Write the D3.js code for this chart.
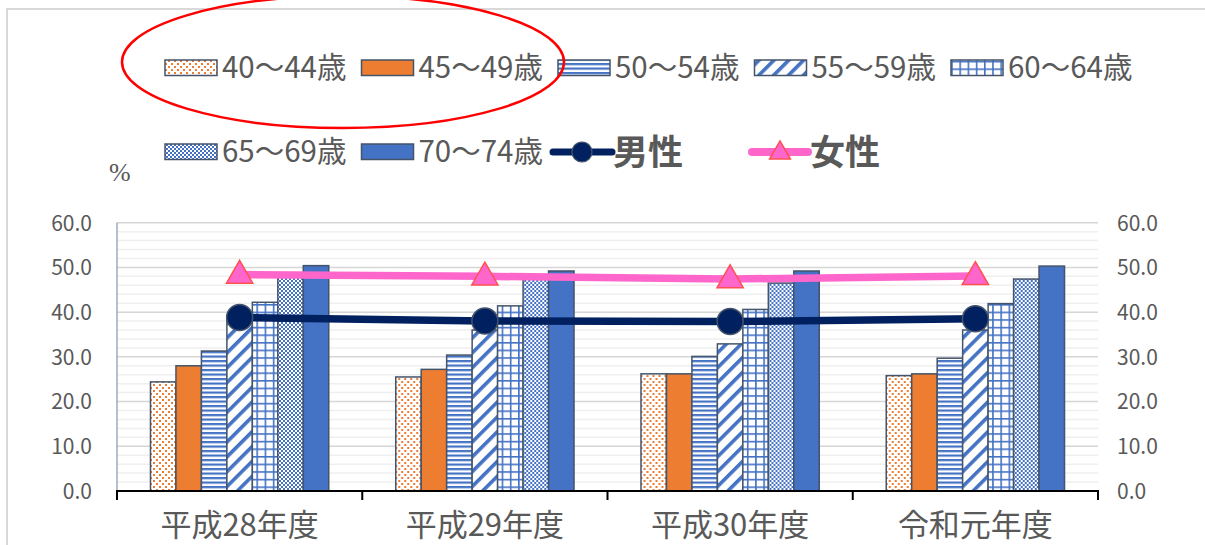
<!DOCTYPE html>
<html lang="ja">
<head>
<meta charset="utf-8">
<script src="https://cdn.jsdelivr.net/npm/d3@7"></script>
<style>
  html, body { margin: 0; padding: 0; background: #fff; }
  svg { display: block; }
  text { font-family: "Noto Sans CJK JP", "Noto Sans", sans-serif; fill: #595959; }
</style>
</head>
<body>
<svg id="chart" width="1205" height="545"></svg>
<script>
// Survey years (x categories)
const categories = ["平成28年度", "平成29年度", "平成30年度", "令和元年度"];

// Age-group series (%), one value per year
const ageGroups = ["40～44歳", "45～49歳", "50～54歳", "55～59歳", "60～64歳", "65～69歳", "70～74歳"];
const age40_44 = [24.4, 25.5, 26.2, 25.8];
const age45_49 = [28.0, 27.2, 26.2, 26.2];
const age50_54 = [31.3, 30.4, 30.1, 29.7];
const age55_59 = [38.5, 36.0, 32.9, 36.0];
const age60_64 = [42.2, 41.4, 40.6, 41.9];
const age65_69 = [48.5, 48.0, 46.5, 47.4];
const age70_74 = [50.4, 49.2, 49.2, 50.3];

// Sex series (%)
const male   = [38.8, 38.0, 37.9, 38.5];
const female = [48.4, 48.0, 47.4, 48.1];

// Axis ticks
const yTicks = [0, 10, 20, 30, 40, 50, 60];

const ageSeries = [age40_44, age45_49, age50_54, age55_59, age60_64, age65_69, age70_74];

const svg = d3.select("#chart");
const defs = svg.append("defs");

const ORANGE = "#ED7D31", BLUE = "#4472C4", EDGE = "#44546A";

// ---- fill patterns for the bars ----
function pattern(id, w, h, build, transform) {
  const p = defs.append("pattern").attr("id", id)
    .attr("patternUnits", "userSpaceOnUse").attr("width", w).attr("height", h);
  if (transform) p.attr("patternTransform", transform);
  build(p);
}
pattern("pDots", 6, 6, p => {
  p.append("rect").attr("width", 6).attr("height", 6).attr("fill", "#fff");
  p.append("rect").attr("x", 0).attr("y", 0).attr("width", 2).attr("height", 2).attr("fill", ORANGE);
  p.append("rect").attr("x", 3).attr("y", 3).attr("width", 2).attr("height", 2).attr("fill", ORANGE);
});
pattern("pHoriz", 6, 4.5, p => {
  p.append("rect").attr("width", 6).attr("height", 4.5).attr("fill", "#fff");
  p.append("rect").attr("y", 0).attr("width", 6).attr("height", 2.2).attr("fill", BLUE);
});
pattern("pDiag", 10.5, 10.5, p => {
  p.append("rect").attr("width", 10.5).attr("height", 10.5).attr("fill", "#fff");
  p.append("rect").attr("width", 3.6).attr("height", 10.5).attr("fill", BLUE);
}, "rotate(45)");
pattern("pGrid", 8.2, 7.6, p => {
  p.append("rect").attr("width", 8.2).attr("height", 7.6).attr("fill", "#fff");
  p.append("rect").attr("width", 1.6).attr("height", 7.6).attr("fill", BLUE);
  p.append("rect").attr("width", 8.2).attr("height", 1.6).attr("fill", BLUE);
});
pattern("pCheck", 4, 4, p => {
  p.append("rect").attr("width", 4).attr("height", 4).attr("fill", BLUE);
  p.append("rect").attr("width", 2).attr("height", 2).attr("fill", "#fff");
  p.append("rect").attr("x", 2).attr("y", 2).attr("width", 2).attr("height", 2).attr("fill", "#fff");
});

const fills = ["url(#pDots)", ORANGE, "url(#pHoriz)", "url(#pDiag)", "url(#pGrid)", "url(#pCheck)", BLUE];

// ---- outer chart frame ----
svg.append("rect").attr("x", 7).attr("y", 9).attr("width", 1300).attr("height", 600)
  .attr("fill", "none").attr("stroke", "#d9d9d9").attr("stroke-width", 2);

// ---- scales ----
const plot = { left: 117, right: 1098, top: 222.7, bottom: 491 };
const x0 = d3.scaleBand().domain(categories).range([plot.left, plot.right]).padding(0);
const gapRatio = 2.63;
const barW = x0.bandwidth() / (ageGroups.length + gapRatio);
const x1 = d3.scaleBand().domain(d3.range(ageGroups.length))
  .range([barW * gapRatio / 2, x0.bandwidth() - barW * gapRatio / 2]).padding(0);
const y = d3.scaleLinear().domain([0, 60]).range([plot.bottom, plot.top]);

// ---- gridlines (minor every 2, major every 10) ----
const grid = svg.append("g");
grid.selectAll("line.minor").data(d3.range(2, 60, 2).filter(v => v % 10 !== 0)).join("line")
  .attr("x1", plot.left).attr("x2", plot.right)
  .attr("y1", d => y(d)).attr("y2", d => y(d))
  .attr("stroke", "#efefef").attr("stroke-width", 1.5);
grid.selectAll("line.major").data(yTicks.filter(v => v > 0)).join("line")
  .attr("x1", plot.left).attr("x2", plot.right)
  .attr("y1", d => y(d)).attr("y2", d => y(d))
  .attr("stroke", "#d6d6d6").attr("stroke-width", 1.5);

// left value axis line
svg.append("line").attr("x1", plot.left).attr("x2", plot.left)
  .attr("y1", plot.top).attr("y2", plot.bottom)
  .attr("stroke", "#8497B0").attr("stroke-width", 1.2);

// ---- y tick labels (both sides) ----
const yAxisL = d3.axisLeft(y).tickValues(yTicks).tickFormat(d3.format(".1f")).tickSize(0).tickPadding(25);
const yAxisR = d3.axisRight(y).tickValues(yTicks).tickFormat(d3.format(".1f")).tickSize(0).tickPadding(19);
[svg.append("g").attr("transform", `translate(${plot.left},0)`).call(yAxisL),
 svg.append("g").attr("transform", `translate(${plot.right},0)`).call(yAxisR)].forEach(g => {
  g.select(".domain").remove();
  g.selectAll("text").attr("font-size", 21).attr("fill", "#595959")
    .style("font-family", "'Noto Sans CJK JP', sans-serif").attr("dy", "0.35em");
});

// ---- bars ----
const groups = svg.append("g").selectAll("g").data(categories).join("g")
  .attr("transform", d => `translate(${x0(d)},0)`);
groups.selectAll("rect").data((c, ci) => ageSeries.map((s, si) => ({ si, v: s[ci] }))).join("rect")
  .attr("x", d => x1(d.si)).attr("width", x1.bandwidth())
  .attr("y", d => y(d.v)).attr("height", d => y(0) - y(d.v))
  .attr("fill", d => fills[d.si]).attr("stroke", EDGE).attr("stroke-width", 1.5);

// ---- category axis ----
const xAxis = svg.append("g").attr("transform", `translate(0,${plot.bottom})`);
xAxis.append("line").attr("x1", plot.left - 1).attr("x2", plot.right + 1)
  .attr("stroke", "#000").attr("stroke-width", 2);
xAxis.selectAll("line.tick").data(d3.range(categories.length + 1)).join("line")
  .attr("x1", i => plot.left + i * x0.bandwidth()).attr("x2", i => plot.left + i * x0.bandwidth())
  .attr("y1", 0).attr("y2", 9).attr("stroke", "#000").attr("stroke-width", 2);
xAxis.selectAll("text").data(categories).join("text")
  .attr("x", d => x0(d) + x0.bandwidth() / 2).attr("y", 45)
  .attr("text-anchor", "middle").attr("font-size", 31).text(d => d);

// ---- lines with markers (placed at the category centre) ----
const cx = c => x0(c) + x0.bandwidth() / 2;
const lineGen = vals => d3.line().x((d, i) => cx(categories[i])).y(d => y(d))(vals);
const MALE_C = "#002060", FEMALE_C = "#FF66CC";

svg.append("path").attr("d", lineGen(female)).attr("fill", "none")
  .attr("stroke", FEMALE_C).attr("stroke-width", 7.5);
svg.append("path").attr("d", lineGen(male)).attr("fill", "none")
  .attr("stroke", MALE_C).attr("stroke-width", 7.5);

const tri = d3.symbol().type(d3.symbolTriangle).size(300);
svg.append("g").selectAll("path").data(female).join("path")
  .attr("d", tri).attr("transform", (d, i) => `translate(${cx(categories[i])},${y(d) + 1})`)
  .attr("fill", FEMALE_C).attr("stroke", "#FF5050").attr("stroke-width", 1.5);
svg.append("g").selectAll("circle").data(male).join("circle")
  .attr("cx", (d, i) => cx(categories[i])).attr("cy", d => y(d)).attr("r", 13)
  .attr("fill", MALE_C).attr("stroke", EDGE).attr("stroke-width", 1.5);

// ---- legend ----
const legend = svg.append("g");
const legendItems = ageGroups.map((name, i) => ({ name, fill: fills[i],
  x: 165 + (i % 5) * 196.5, y: i < 5 ? 68 : 152 }));
legendItems.forEach(it => {
  legend.append("rect").attr("x", it.x).attr("y", it.y - 8).attr("width", 52).attr("height", 15.5)
    .attr("fill", it.fill).attr("stroke", EDGE).attr("stroke-width", 1.5);
  legend.append("text").attr("x", it.x + 57).attr("y", it.y).attr("dy", "0.35em")
    .attr("font-size", 29.5).text(it.name);
});
// male legend entry
legend.append("line").attr("x1", 553).attr("x2", 612).attr("y1", 152).attr("y2", 152)
  .attr("stroke", MALE_C).attr("stroke-width", 7).attr("stroke-linecap", "round");
legend.append("circle").attr("cx", 582).attr("cy", 152).attr("r", 10)
  .attr("fill", MALE_C).attr("stroke", EDGE).attr("stroke-width", 1.2);
legend.append("text").attr("x", 613).attr("y", 152).attr("dy", "0.36em")
  .attr("font-size", 35).attr("font-weight", "bold").text("男性");
// female legend entry
legend.append("line").attr("x1", 752).attr("x2", 808).attr("y1", 152).attr("y2", 152)
  .attr("stroke", FEMALE_C).attr("stroke-width", 8).attr("stroke-linecap", "round");
legend.append("path").attr("d", d3.symbol().type(d3.symbolTriangle).size(190))
  .attr("transform", "translate(780,153)")
  .attr("fill", FEMALE_C).attr("stroke", "#FF5050").attr("stroke-width", 1.5);
legend.append("text").attr("x", 810).attr("y", 152).attr("dy", "0.36em")
  .attr("font-size", 35).attr("font-weight", "bold").text("女性");

// unit label
svg.append("text").attr("x", 109).attr("y", 181).attr("font-size", 26)
  .style("font-family", "'Liberation Serif', serif").attr("fill", "#222").text("%");

// highlight ellipse around the first legend entries
svg.append("ellipse").attr("cx", 343).attr("cy", 62).attr("rx", 221).attr("ry", 66)
  .attr("fill", "none").attr("stroke", "#FF0000").attr("stroke-width", 2.5);
</script>
</body>
</html>
